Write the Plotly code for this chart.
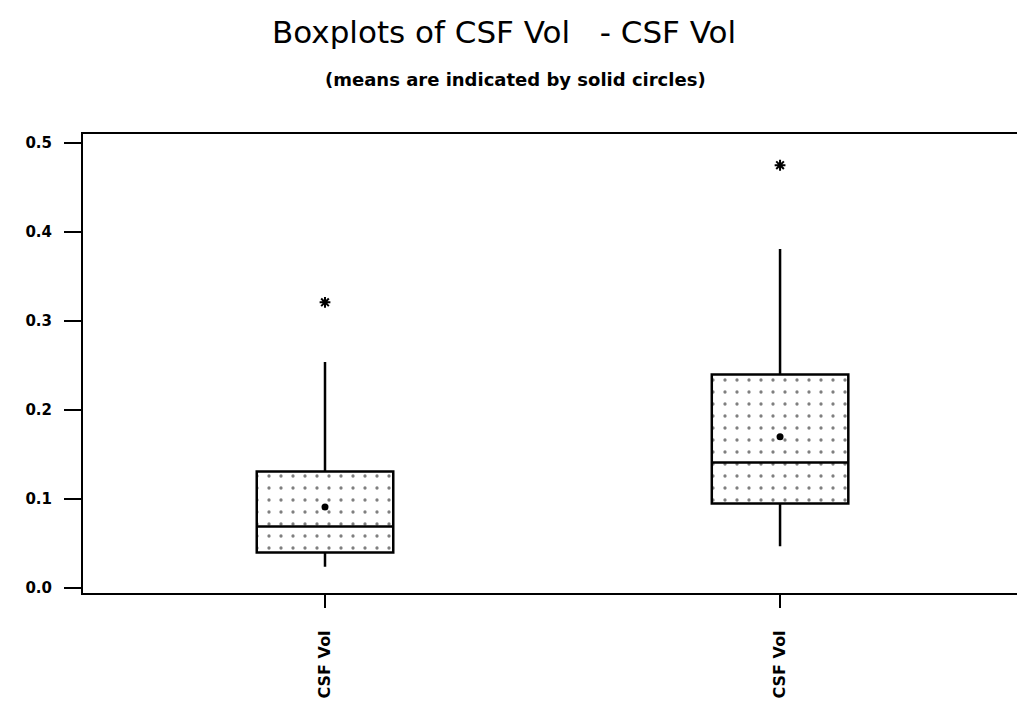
import plotly.graph_objects as go

categories = ["CSF Vol", "CSF Vol"]
x_pos = [0, 1]
q1 = [0.040, 0.095]
median = [0.069, 0.141]
q3 = [0.131, 0.240]
lower_whisker = [0.024, 0.047]
upper_whisker = [0.254, 0.381]
means = [0.091, 0.170]
outliers_x = [0, 1]
outliers_y = [0.321, 0.475]
y_ticks = [0.0, 0.1, 0.2, 0.3, 0.4, 0.5]
y_tick_labels = ["0.0", "0.1", "0.2", "0.3", "0.4", "0.5"]

font_family = "DejaVu Sans, Liberation Sans, Arial, sans-serif"

fig = go.Figure()

# stippled box fill
fig.add_trace(go.Bar(
    x=x_pos,
    y=[b - a for a, b in zip(q1, q3)],
    base=q1,
    width=0.3,
    marker=dict(
        color="white",
        line=dict(width=0),
        pattern=dict(shape=".", fgcolor="black", bgcolor="white", size=12, solidity=0.06),
    ),
    showlegend=False,
    hoverinfo="skip",
))

fig.add_trace(go.Box(
    x=x_pos,
    q1=q1,
    median=median,
    q3=q3,
    lowerfence=lower_whisker,
    upperfence=upper_whisker,
    width=0.3,
    whiskerwidth=0,
    fillcolor="rgba(0,0,0,0)",
    line=dict(color="black", width=2.5),
    showlegend=False,
))

fig.add_trace(go.Scatter(
    x=x_pos, y=means, mode="markers",
    marker=dict(symbol="circle", size=7, color="black"),
    showlegend=False,
))

fig.add_trace(go.Scatter(
    x=outliers_x, y=outliers_y, mode="markers",
    marker=dict(symbol="asterisk-open", size=9, color="black", line=dict(color="black", width=2)),
    showlegend=False,
))

fig.update_layout(
    width=1017,
    height=701,
    margin=dict(l=83, r=0, t=134, b=108),
    paper_bgcolor="white",
    plot_bgcolor="white",
    font=dict(family=font_family, color="black"),
    barmode="overlay",
    annotations=[
        dict(text="Boxplots of CSF Vol   - CSF Vol", xref="paper", yref="paper",
             x=(503.5 - 83) / 934, y=1 + (134 - 32) / 459, xanchor="center", yanchor="middle",
             showarrow=False, font=dict(size=31, family=font_family, color="black")),
        dict(text="<b>(means are indicated by solid circles)</b>", xref="paper", yref="paper",
             x=(515 - 83) / 934, y=1 + (134 - 79) / 459, xanchor="center", yanchor="middle",
             showarrow=False, font=dict(size=18, family=font_family, color="black")),
    ],
)

fig.update_xaxes(
    range=[-0.5318, 1.5207],
    tickmode="array",
    tickvals=x_pos,
    ticktext=["<b>" + c + "</b>" for c in categories],
    tickangle=-90,
    ticks="outside",
    ticklen=13,
    tickwidth=2,
    tickcolor="black",
    ticklabelstandoff=16,
    showline=True,
    linecolor="black",
    linewidth=2,
    mirror=True,
    showgrid=False,
    zeroline=False,
    tickfont=dict(size=16, family=font_family, color="black"),
)

fig.update_yaxes(
    range=[-0.0056, 0.5101],
    tickmode="array",
    tickvals=y_ticks,
    ticktext=["<b>" + t + "</b>" for t in y_tick_labels],
    ticks="outside",
    ticklen=17,
    tickwidth=2,
    tickcolor="black",
    ticklabelstandoff=9,
    showline=True,
    linecolor="black",
    linewidth=2,
    showgrid=False,
    zeroline=False,
    tickfont=dict(size=15, family=font_family, color="black"),
)

fig.write_html("out.html")
